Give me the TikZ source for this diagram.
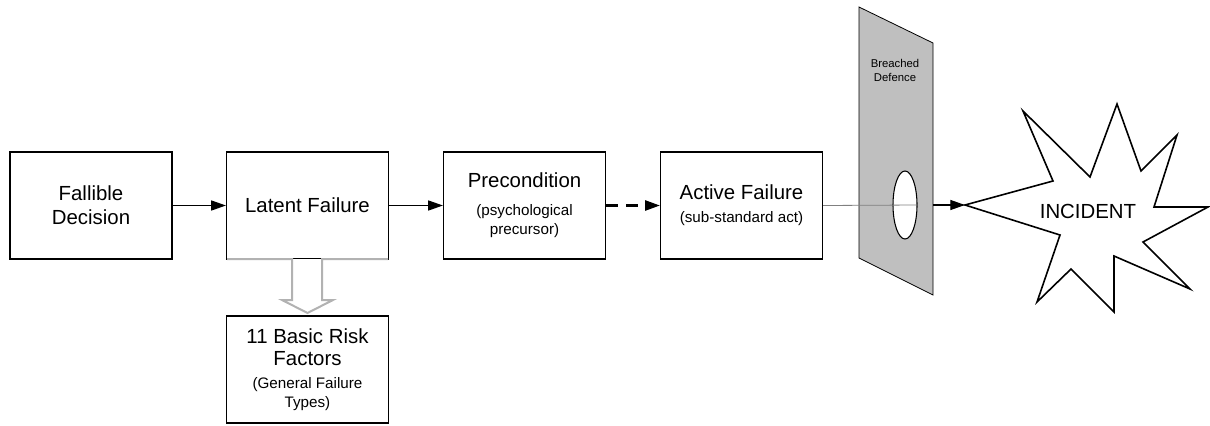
\documentclass[tikz,border=0pt]{standalone}
\usepackage{fontspec}
\setmainfont{Liberation Sans}
\usetikzlibrary{arrows.meta,shapes.geometric}

\newcommand{\sublabel}{\fontsize{11.4}{14}\selectfont}

\begin{document}
\begin{tikzpicture}[x=0.75pt,y=-0.75pt]
\tikzstyle{box}=[draw, line width=0.9pt, minimum width=121.5pt, minimum height=80.25pt, align=center, inner sep=2pt, font=\fontsize{15.3}{18}\selectfont]
\tikzstyle{arr}=[line width=0.9pt, -{Triangle[length=11pt,width=7.5pt]}]
    \useasboundingbox (0,0) rectangle (1210,425);

    \node[box] (fallible) at (91,205.5) {Fallible\\Decision};
    \node[box] (latent) at (307.5,205.5) {Latent Failure};
    \node[box] (precond) at (524.5,205.5) {Precondition\\[3pt]\sublabel (psychological\\[-4pt]\sublabel precursor)};
    \node[box] (active) at (741.5,205.5) {Active Failure\\[-1pt]\sublabel (sub-standard act)};
    \node[box] (risk) at (307.5,369.5) {11 Basic Risk\\[-1pt]Factors\\[-1pt]\sublabel (General Failure\\[-4pt]\sublabel Types)};

    \draw[arr] (fallible) -- (latent);
    \draw[arr] (latent) -- (precond);
    \draw[arr, line width=1.6pt, dash pattern=on 9pt off 6pt] (precond) -- (active);

    \draw[gray!60, line width=1.5pt, fill=white]
        (227,259) -- (292,259) -- (292,300) -- (282,300) -- (307.5,313)
        -- (333,300) -- (322,300) -- (322,259) -- (388,259);

    \fill[gray!50] (859,7) -- (933,43) -- (933,295) -- (859,258) -- cycle;
    \draw[line width=0.6pt] (859,7) -- (933,43) -- (933,295) -- (859,258) -- cycle;
    \node[font=\fontsize{8.5}{11}\selectfont, align=center] (defence) at (895,70.5) {Breached\\Defence};
    \node[draw, ellipse, fill=white, line width=0.8pt, inner sep=0pt, minimum width=18pt, minimum height=51pt] (hole) at (905,205) {};

    \coordinate (exit) at (933,205);
    \coordinate (burst) at (965,205);
    \draw[gray, line width=0.6pt] (active.east) -- (hole.east);
    \draw[arr] (exit) -- (burst);

    \draw[line width=1.2pt, line join=miter] (burst) -- (1053,181) -- (1023,111) -- (1090,177)
        -- (1117,104) -- (1141,171) -- (1177,135) -- (1154,207) -- (1208,207)
        -- (1143,242) -- (1190,289) -- (1114,256) -- (1114,312) -- (1071,269)
        -- (1037,302) -- (1060,235) -- cycle;
    \node[font=\fontsize{15.3}{18}\selectfont] (incident) at (1088,211) {INCIDENT};

\end{tikzpicture}
\end{document}
